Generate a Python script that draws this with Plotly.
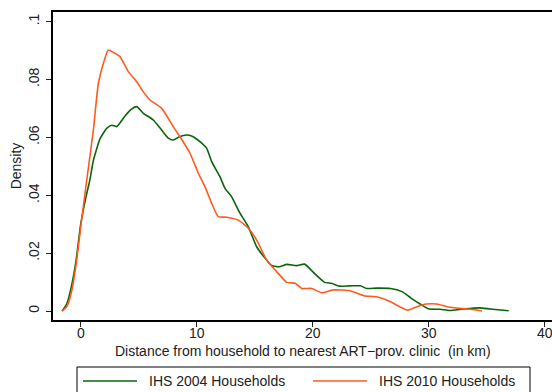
import plotly.graph_objects as go

# ---- data ----
x_2004 = [-1.6, -1.2, -0.8, -0.4, 0.0, 0.46, 0.8, 1.09, 1.66, 2.24, 2.67, 3.1, 3.82, 4.3, 4.83, 5.4, 6.26,
          6.84, 7.55, 7.98, 8.5, 9.14, 9.6, 10.28, 10.86, 11.29, 12.0, 12.44, 13.0, 13.73, 14.45, 15.17,
          15.9, 16.46, 17.16, 17.76, 18.6, 19.3, 20.0, 21.03, 21.6, 22.3, 23.2, 24.1, 24.65, 25.5, 26.7,
          27.7, 28.5, 29.4, 29.96, 31.0, 31.8, 33.0, 34.4, 35.3, 36.9]
y_2004 = [0.0, 0.0025, 0.0085, 0.0175, 0.030, 0.0395, 0.0455, 0.052, 0.0595, 0.0631, 0.0642, 0.0637, 0.0674,
          0.0695, 0.0706, 0.0683, 0.066, 0.0632, 0.0597, 0.0591, 0.0602, 0.0608, 0.0604, 0.0585, 0.0562,
          0.0516, 0.0464, 0.0424, 0.0395, 0.0338, 0.0291, 0.0222, 0.0182, 0.0157, 0.0153, 0.0161, 0.0157,
          0.0162, 0.0136, 0.0099, 0.0096, 0.0086, 0.0087, 0.0087, 0.0078, 0.0079, 0.0078, 0.0067, 0.0044,
          0.0021, 0.0008, 0.0006, 0.0002, 0.0007, 0.0011, 0.0007, 0.0001]

x_2010 = [-1.6, -1.2, -0.8, -0.4, 0.0, 0.52, 1.09, 1.52, 1.95, 2.38, 2.96, 3.39, 4.1, 4.83, 5.4, 5.97,
          6.98, 7.98, 8.56, 9.42, 10.14, 10.72, 11.29, 11.86, 12.59, 13.59, 14.45, 15.17, 16.03, 16.9,
          17.76, 18.48, 19.05, 19.91, 20.78, 21.78, 23.2, 24.4, 25.5, 26.7, 27.5, 28.2, 29.0, 29.8,
          30.7, 31.6, 32.7, 33.6, 34.6]
y_2010 = [0.0, 0.0015, 0.0065, 0.016, 0.029, 0.0452, 0.0625, 0.0786, 0.0855, 0.0902, 0.089, 0.0879, 0.0827,
          0.0792, 0.0757, 0.0729, 0.070, 0.0637, 0.0602, 0.0545, 0.0476, 0.0429, 0.0372, 0.0326, 0.0324,
          0.0314, 0.0286, 0.0245, 0.0176, 0.0136, 0.0099, 0.0096, 0.0078, 0.0078, 0.0063, 0.0073, 0.007,
          0.0053, 0.0049, 0.0032, 0.0015, 0.0003, 0.0015, 0.0024, 0.0024, 0.0015, 0.0009, 0.0006, 0.0]

y_tickvals = [0, 0.02, 0.04, 0.06, 0.08, 0.1]
y_ticktext = ["0", ".02", ".04", ".06", ".08", ".1"]
x_tickvals = [0, 10, 20, 30, 40]
x_ticktext = ["0", "10", "20", "30", "40"]

names = ["IHS 2004 Households", "IHS 2010 Households"]
colors = ["#0a640a", "#ff5a1e"]
x_title = "Distance from household to nearest ART\u2212prov. clinic  (in km)"
y_title = "Density"

FONT = "Liberation Sans, Arial, sans-serif"
FS = 14
W, H = 552, 392
L, R, T, B = 53, 0, 12, 72

fig = go.Figure()
fig.add_trace(go.Scatter(x=x_2004, y=y_2004, mode="lines", name=names[0],
                         line=dict(color=colors[0], width=1.6, shape="spline", smoothing=0.5)))
fig.add_trace(go.Scatter(x=x_2010, y=y_2010, mode="lines", name=names[1],
                         line=dict(color=colors[1], width=1.6, shape="spline", smoothing=0.5)))

# pixel -> paper helpers
pw, ph = W - L - R, H - T - B
def px(x):
    return (x - L) / pw
def py(y):
    return (H - B - y) / ph

# x tick labels, positioned by the x data scale
for v, t in zip(x_tickvals, x_ticktext):
    fig.add_annotation(xref="x", yref="paper", x=v, y=py(333), text=t, showarrow=False,
                       xanchor="center", yanchor="middle", font=dict(family=FONT, size=FS, color="#222"))

# x-axis title placed at its reference position
fig.add_annotation(xref="paper", yref="paper", x=px(302.5), y=py(351), text=x_title, showarrow=False,
                   xanchor="center", yanchor="middle", font=dict(family=FONT, size=FS, color="#222"))

# manual legend
fig.add_shape(type="rect", xref="paper", yref="paper", x0=px(77), x1=px(530), y0=py(405), y1=py(367),
              line=dict(color="black", width=1), fillcolor="white", layer="above")
legend_items = [(83, 137, 147), (313, 367, 377)]
for (lx0, lx1, tx), nm, c in zip(legend_items, names, colors):
    fig.add_shape(type="line", xref="paper", yref="paper", x0=px(lx0), x1=px(lx1), y0=py(381), y1=py(381),
                  line=dict(color=c, width=1.6), layer="above")
    fig.add_annotation(xref="paper", yref="paper", x=px(tx), y=py(381), text=nm, showarrow=False,
                       xanchor="left", yanchor="middle", font=dict(family=FONT, size=FS, color="#222"))

fig.update_layout(
    width=W, height=H, margin=dict(l=L, r=R, t=T, b=B),
    paper_bgcolor="white", plot_bgcolor="white", showlegend=False,
    font=dict(family=FONT, size=FS, color="#222"),
)
fig.update_xaxes(range=[-2.39, 40.63], tickvals=x_tickvals, ticks="outside", ticklen=5, tickwidth=1,
                 tickcolor="#222", showline=True, linecolor="black", linewidth=1.5, mirror=True,
                 showgrid=False, zeroline=False, showticklabels=False)
fig.update_yaxes(range=[-0.0031, 0.1033], tickvals=y_tickvals, ticktext=y_ticktext, tickangle=-90,
                 ticks="outside", ticklen=5, tickwidth=1, tickcolor="#222", showline=True,
                 linecolor="black", linewidth=1.5, showgrid=False, zeroline=False, ticklabelstandoff=2,
                 title=dict(text=y_title, standoff=1, font=dict(size=FS)))

fig.write_html("out.html")
